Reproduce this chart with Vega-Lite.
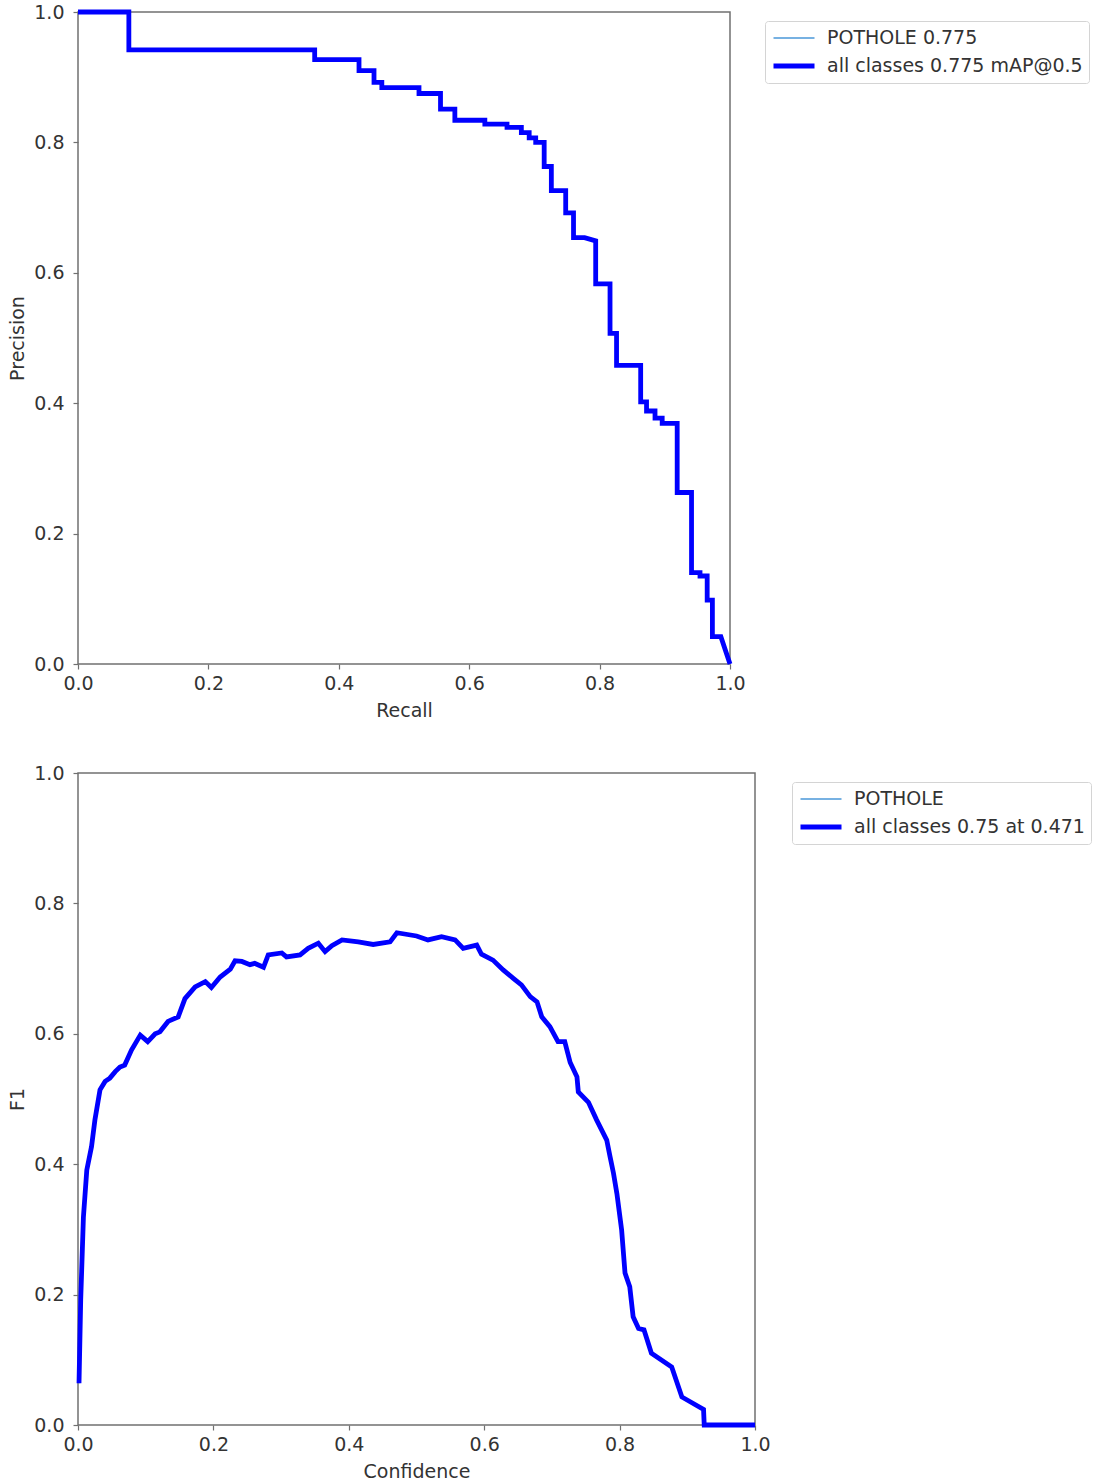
{
  "$schema": "https://vega.github.io/schema/vega-lite/v6.json",
  "background": "white",
  "padding": {"top": 1, "left": 8, "right": 5, "bottom": 0},
  "spacing": 42,
  "config": {
    "font": "DejaVu Sans",
    "view": {"stroke": "#707070", "strokeWidth": 1.5},
    "axis": {
      "grid": false,
      "domain": false,
      "labelFlush": false,
      "labelOverlap": false,
      "tickColor": "#707070",
      "tickSize": 5,
      "tickWidth": 1.2,
      "labelFont": "DejaVu Sans",
      "labelFontSize": 19,
      "labelColor": "#333333",
      "titleFont": "DejaVu Sans",
      "titleFontSize": 19,
      "titleFontWeight": "normal",
      "titleColor": "#333333"
    },
    "axisX": {"labelPadding": 5, "titlePadding": 8},
    "axisY": {"labelPadding": 9, "titlePadding": 6},
    "legend": {
      "title": null,
      "symbolType": "stroke",
      "symbolSize": 1681,
      "labelFont": "DejaVu Sans",
      "labelFontSize": 19,
      "labelColor": "#333333",
      "labelOffset": 10,
      "labelLimit": 500,
      "padding": 6,
      "clipHeight": 22,
      "rowPadding": 6,
      "strokeColor": "#d4d4d4",
      "fillColor": "white",
      "cornerRadius": 3
    }
  },
  "datasets": {
    "pr": [
      {"i": 0, "recall": 0.0, "precision": 1.0},
      {"i": 1, "recall": 0.078, "precision": 1.0},
      {"i": 2, "recall": 0.078, "precision": 0.942},
      {"i": 3, "recall": 0.363, "precision": 0.942},
      {"i": 4, "recall": 0.363, "precision": 0.927},
      {"i": 5, "recall": 0.431, "precision": 0.927},
      {"i": 6, "recall": 0.431, "precision": 0.910},
      {"i": 7, "recall": 0.454, "precision": 0.910},
      {"i": 8, "recall": 0.454, "precision": 0.892},
      {"i": 9, "recall": 0.466, "precision": 0.892},
      {"i": 10, "recall": 0.466, "precision": 0.884},
      {"i": 11, "recall": 0.523, "precision": 0.884},
      {"i": 12, "recall": 0.523, "precision": 0.875},
      {"i": 13, "recall": 0.556, "precision": 0.875},
      {"i": 14, "recall": 0.556, "precision": 0.851},
      {"i": 15, "recall": 0.578, "precision": 0.851},
      {"i": 16, "recall": 0.578, "precision": 0.834},
      {"i": 17, "recall": 0.624, "precision": 0.834},
      {"i": 18, "recall": 0.624, "precision": 0.828},
      {"i": 19, "recall": 0.658, "precision": 0.828},
      {"i": 20, "recall": 0.658, "precision": 0.823},
      {"i": 21, "recall": 0.680, "precision": 0.823},
      {"i": 22, "recall": 0.680, "precision": 0.815},
      {"i": 23, "recall": 0.692, "precision": 0.815},
      {"i": 24, "recall": 0.692, "precision": 0.807},
      {"i": 25, "recall": 0.702, "precision": 0.807},
      {"i": 26, "recall": 0.702, "precision": 0.800},
      {"i": 27, "recall": 0.715, "precision": 0.800},
      {"i": 28, "recall": 0.715, "precision": 0.763},
      {"i": 29, "recall": 0.726, "precision": 0.763},
      {"i": 30, "recall": 0.726, "precision": 0.726},
      {"i": 31, "recall": 0.748, "precision": 0.726},
      {"i": 32, "recall": 0.748, "precision": 0.692},
      {"i": 33, "recall": 0.760, "precision": 0.692},
      {"i": 34, "recall": 0.760, "precision": 0.654},
      {"i": 35, "recall": 0.777, "precision": 0.654},
      {"i": 36, "recall": 0.794, "precision": 0.649},
      {"i": 37, "recall": 0.794, "precision": 0.583},
      {"i": 38, "recall": 0.816, "precision": 0.583},
      {"i": 39, "recall": 0.816, "precision": 0.507},
      {"i": 40, "recall": 0.826, "precision": 0.507},
      {"i": 41, "recall": 0.826, "precision": 0.458},
      {"i": 42, "recall": 0.863, "precision": 0.458},
      {"i": 43, "recall": 0.863, "precision": 0.402},
      {"i": 44, "recall": 0.872, "precision": 0.402},
      {"i": 45, "recall": 0.872, "precision": 0.388},
      {"i": 46, "recall": 0.885, "precision": 0.388},
      {"i": 47, "recall": 0.885, "precision": 0.377},
      {"i": 48, "recall": 0.896, "precision": 0.377},
      {"i": 49, "recall": 0.896, "precision": 0.369},
      {"i": 50, "recall": 0.919, "precision": 0.369},
      {"i": 51, "recall": 0.919, "precision": 0.263},
      {"i": 52, "recall": 0.941, "precision": 0.263},
      {"i": 53, "recall": 0.941, "precision": 0.140},
      {"i": 54, "recall": 0.954, "precision": 0.140},
      {"i": 55, "recall": 0.954, "precision": 0.135},
      {"i": 56, "recall": 0.965, "precision": 0.135},
      {"i": 57, "recall": 0.965, "precision": 0.098},
      {"i": 58, "recall": 0.973, "precision": 0.098},
      {"i": 59, "recall": 0.973, "precision": 0.042},
      {"i": 60, "recall": 0.986, "precision": 0.042},
      {"i": 61, "recall": 1.0, "precision": 0.0}
    ],
    "f1": [
      {"confidence": 0.0015, "f1": 0.064},
      {"confidence": 0.004, "f1": 0.192},
      {"confidence": 0.008, "f1": 0.319},
      {"confidence": 0.013, "f1": 0.391},
      {"confidence": 0.020, "f1": 0.427},
      {"confidence": 0.025, "f1": 0.468},
      {"confidence": 0.0325, "f1": 0.514},
      {"confidence": 0.040, "f1": 0.527},
      {"confidence": 0.047, "f1": 0.532},
      {"confidence": 0.055, "f1": 0.542},
      {"confidence": 0.062, "f1": 0.549},
      {"confidence": 0.069, "f1": 0.552},
      {"confidence": 0.079, "f1": 0.575},
      {"confidence": 0.092, "f1": 0.598},
      {"confidence": 0.103, "f1": 0.588},
      {"confidence": 0.114, "f1": 0.600},
      {"confidence": 0.121, "f1": 0.603},
      {"confidence": 0.133, "f1": 0.619},
      {"confidence": 0.148, "f1": 0.626},
      {"confidence": 0.158, "f1": 0.654},
      {"confidence": 0.173, "f1": 0.672},
      {"confidence": 0.188, "f1": 0.680},
      {"confidence": 0.197, "f1": 0.671},
      {"confidence": 0.210, "f1": 0.687},
      {"confidence": 0.225, "f1": 0.699},
      {"confidence": 0.232, "f1": 0.712},
      {"confidence": 0.242, "f1": 0.711},
      {"confidence": 0.254, "f1": 0.706},
      {"confidence": 0.261, "f1": 0.708},
      {"confidence": 0.274, "f1": 0.702},
      {"confidence": 0.281, "f1": 0.721},
      {"confidence": 0.301, "f1": 0.724},
      {"confidence": 0.308, "f1": 0.718},
      {"confidence": 0.328, "f1": 0.721},
      {"confidence": 0.340, "f1": 0.731},
      {"confidence": 0.355, "f1": 0.739},
      {"confidence": 0.365, "f1": 0.726},
      {"confidence": 0.375, "f1": 0.735},
      {"confidence": 0.390, "f1": 0.744},
      {"confidence": 0.414, "f1": 0.741},
      {"confidence": 0.436, "f1": 0.737},
      {"confidence": 0.461, "f1": 0.741},
      {"confidence": 0.471, "f1": 0.755},
      {"confidence": 0.500, "f1": 0.750},
      {"confidence": 0.517, "f1": 0.744},
      {"confidence": 0.537, "f1": 0.749},
      {"confidence": 0.557, "f1": 0.744},
      {"confidence": 0.569, "f1": 0.731},
      {"confidence": 0.589, "f1": 0.736},
      {"confidence": 0.596, "f1": 0.722},
      {"confidence": 0.613, "f1": 0.713},
      {"confidence": 0.628, "f1": 0.698},
      {"confidence": 0.643, "f1": 0.685},
      {"confidence": 0.655, "f1": 0.675},
      {"confidence": 0.668, "f1": 0.657},
      {"confidence": 0.678, "f1": 0.649},
      {"confidence": 0.685, "f1": 0.626},
      {"confidence": 0.697, "f1": 0.611},
      {"confidence": 0.709, "f1": 0.588},
      {"confidence": 0.719, "f1": 0.588},
      {"confidence": 0.727, "f1": 0.556},
      {"confidence": 0.737, "f1": 0.534},
      {"confidence": 0.739, "f1": 0.511},
      {"confidence": 0.754, "f1": 0.495},
      {"confidence": 0.766, "f1": 0.468},
      {"confidence": 0.781, "f1": 0.437},
      {"confidence": 0.786, "f1": 0.411},
      {"confidence": 0.791, "f1": 0.386},
      {"confidence": 0.796, "f1": 0.355},
      {"confidence": 0.803, "f1": 0.299},
      {"confidence": 0.808, "f1": 0.233},
      {"confidence": 0.815, "f1": 0.212},
      {"confidence": 0.820, "f1": 0.166},
      {"confidence": 0.828, "f1": 0.148},
      {"confidence": 0.836, "f1": 0.146},
      {"confidence": 0.847, "f1": 0.110},
      {"confidence": 0.877, "f1": 0.089},
      {"confidence": 0.892, "f1": 0.043},
      {"confidence": 0.924, "f1": 0.024},
      {"confidence": 0.925, "f1": 0.0},
      {"confidence": 1.0, "f1": 0.0}
    ]
  },
  "resolve": {
    "scale": {"color": "independent", "strokeWidth": "independent"},
    "legend": {"color": "independent", "strokeWidth": "independent"}
  },
  "vconcat": [
    {
      "width": 652,
      "height": 652,
      "data": {"name": "pr"},
      "encoding": {
        "x": {"field": "recall", "type": "quantitative", "title": "Recall", "scale": {"domain": [0, 1], "nice": false, "zero": false}, "axis": {"values": [0, 0.2, 0.4, 0.6, 0.8, 1], "format": ".1f"}},
        "y": {"field": "precision", "type": "quantitative", "title": "Precision", "scale": {"domain": [0, 1], "nice": false, "zero": false}, "axis": {"values": [0, 0.2, 0.4, 0.6, 0.8, 1], "format": ".1f"}},
        "order": {"field": "i", "type": "quantitative"}
      },
      "layer": [
        {
          "mark": {"type": "line", "clip": false},
          "encoding": {
            "color": {"datum": "POTHOLE 0.775", "type": "nominal", "scale": {"domain": ["POTHOLE 0.775", "all classes 0.775 mAP@0.5"], "range": ["#4a97d8", "#0000ff"]}, "legend": {"orient": "none", "legendX": 687, "legendY": 9}},
            "strokeWidth": {"datum": "POTHOLE 0.775", "type": "nominal", "scale": {"type": "point", "padding": 0, "domain": ["POTHOLE 0.775", "all classes 0.775 mAP@0.5"], "range": [1.5, 4.8]}, "legend": {"orient": "none", "legendX": 687, "legendY": 9}}
          }
        },
        {
          "mark": {"type": "line", "clip": false},
          "encoding": {
            "color": {"datum": "all classes 0.775 mAP@0.5", "type": "nominal"},
            "strokeWidth": {"datum": "all classes 0.775 mAP@0.5", "type": "nominal"}
          }
        }
      ]
    },
    {
      "width": 677,
      "height": 652,
      "data": {"name": "f1"},
      "encoding": {
        "x": {"field": "confidence", "type": "quantitative", "title": "Confidence", "scale": {"domain": [0, 1], "nice": false, "zero": false}, "axis": {"values": [0, 0.2, 0.4, 0.6, 0.8, 1], "format": ".1f"}},
        "y": {"field": "f1", "type": "quantitative", "title": "F1", "scale": {"domain": [0, 1], "nice": false, "zero": false}, "axis": {"values": [0, 0.2, 0.4, 0.6, 0.8, 1], "format": ".1f"}}
      },
      "layer": [
        {
          "mark": {"type": "line", "clip": false},
          "encoding": {
            "color": {"datum": "POTHOLE", "type": "nominal", "scale": {"domain": ["POTHOLE", "all classes 0.75 at 0.471"], "range": ["#4a97d8", "#0000ff"]}, "legend": {"orient": "none", "legendX": 714, "legendY": 9}},
            "strokeWidth": {"datum": "POTHOLE", "type": "nominal", "scale": {"type": "point", "padding": 0, "domain": ["POTHOLE", "all classes 0.75 at 0.471"], "range": [1.5, 4.8]}, "legend": {"orient": "none", "legendX": 714, "legendY": 9}}
          }
        },
        {
          "mark": {"type": "line", "clip": false},
          "encoding": {
            "color": {"datum": "all classes 0.75 at 0.471", "type": "nominal"},
            "strokeWidth": {"datum": "all classes 0.75 at 0.471", "type": "nominal"}
          }
        }
      ]
    }
  ]
}
